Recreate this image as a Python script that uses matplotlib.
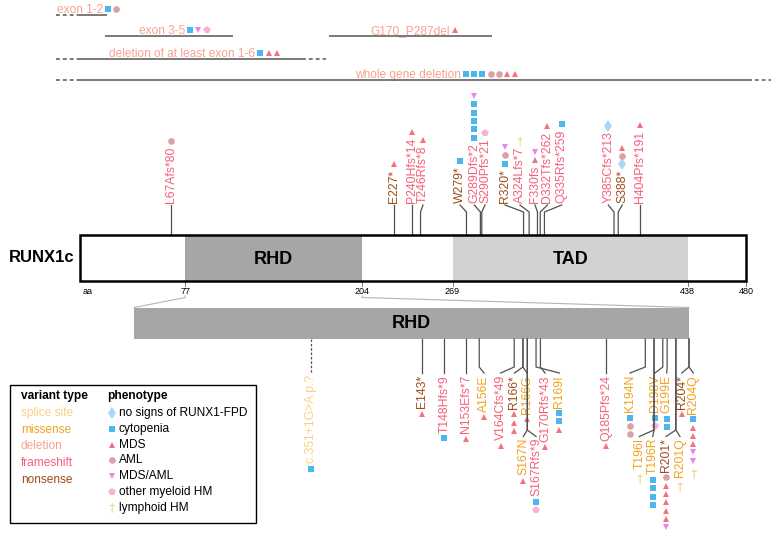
import matplotlib
matplotlib.use('Agg')
import matplotlib.pyplot as plt
from matplotlib.patches import Rectangle

plt.rcParams['font.family'] = ['Liberation Sans', 'DejaVu Sans']

# ---------------- data ----------------
protein_len = 480
domain_names = ['RHD', 'TAD']
domain_start = [77, 269]
domain_end = [204, 438]
domain_color = ['#A6A6A6', '#D4D1D1']
tick_aa = [77, 204, 269, 438, 480]

# large deletions (extent in aa as drawn)
del_names = ['exon 1-2', 'exon 3-5', 'deletion of at least exon 1-6', 'G170_P287del', 'whole gene deletion']
del_start = [1, 19, 1, 180, 1]
del_end = [21, 111, 161, 297, 481]
del_open_left = [True, False, True, False, True]
del_open_right = [False, False, True, False, True]
del_pheno = [['cyto', 'aml'], ['cyto', 'mdsaml', 'myeloid'], ['cyto', 'mds', 'mds'], ['mds'],
             ['cyto', 'cyto', 'cyto', 'aml', 'aml', 'mds', 'mds']]

# variants outside the RHD (upper track)
top_names = ['L67Afs*80', 'E227*', 'P240Hfs*14', 'T246Rfs*8', 'W279*', 'G289Dfs*2', 'S290Pfs*21', 'R320*',
             'A324Lfs*7', 'F330fs', 'D332Tfs*262', 'Q335Rfs*259', 'Y385Cfs*213', 'S388*', 'H404Pfs*191']
top_aa = [67, 227, 240, 246, 279, 289, 290, 320, 324, 330, 332, 335, 385, 388, 404]
top_type = ['fs', 'ns', 'fs', 'fs', 'ns', 'fs', 'fs', 'ns', 'fs', 'fs', 'fs', 'fs', 'fs', 'ns', 'fs']
top_pheno = [['aml'], ['mds'], ['mds'], ['mds'], ['cyto'], ['cyto'] * 5 + ['mdsaml'], ['myeloid'],
             ['cyto', 'aml', 'mdsaml'], ['lymph'], ['mds', 'mdsaml'], ['mds'], ['cyto'], ['none'],
             ['none', 'aml', 'mds'], ['mds']]

# variants in the RHD (zoomed track)
low_names = ['c.351+1G>A p.?', 'E143*', 'T148Hfs*9', 'N153Efs*7', 'A156E', 'V164Cfs*49', 'R166*', 'R166G',
             'S167N', 'S167Rfs*9', 'R169I', 'G170Rfs*43', 'Q185Pfs*24', 'K194N', 'T196I', 'T196R',
             'D198V', 'G199E', 'R201*', 'R201Q', 'R204*', 'R204Q']
low_aa = [117.5, 143, 148, 153, 156, 164, 166, 166, 167, 167, 169, 170, 185, 194, 196, 196,
          198, 199, 201, 201, 204, 204]
low_type = ['sp', 'ns', 'fs', 'fs', 'ms', 'fs', 'ns', 'ms', 'ms', 'fs', 'ms', 'fs', 'fs', 'ms', 'ms', 'ms',
            'ms', 'ms', 'ns', 'ms', 'ns', 'ms']
low_pheno = [['cyto'], ['mds'], ['cyto'], ['mds'], ['mds'], ['mds'], ['mds', 'mds', 'mds'], ['mds'],
             ['mds'], ['cyto', 'myeloid'], ['cyto', 'cyto', 'mds'], ['mds'], ['mds'], ['cyto', 'aml', 'aml'],
             ['lymph'], ['cyto'] * 4, ['cyto', 'myeloid'], ['cyto', 'cyto'],
             ['aml', 'mds', 'mds', 'mds', 'mds', 'mds', 'mdsaml'], ['lymph'], ['mds'],
             ['cyto', 'mds', 'mds', 'mds', 'mdsaml', 'mdsaml', 'lymph']]

vt_keys = ['sp', 'ms', 'del', 'fs', 'ns']
vt_labels = ['splice site', 'missense', 'deletion', 'frameshift', 'nonsense']
ph_keys = ['none', 'cyto', 'mds', 'aml', 'mdsaml', 'myeloid', 'lymph']
ph_labels = ['no signs of RUNX1-FPD', 'cytopenia', 'MDS', 'AML', 'MDS/AML', 'other myeloid HM', 'lymphoid HM']

# ---------------- layout / style ----------------
top_label_x = [None, None, None, 423, 460, 474.3, 485, 505, 520, 535, 547.5, 561.7, 608.3, 622.3, None]
low_label_x = [None, None, None, None, 484, 500.7, 514.5, 527, 523.3, 536, 559.3, 545, None, 630,
               639.3, 652.7, 655, 666.7, 666, 680, 681.7, 693.3]
low_row = [1, 1, 1, 1, 1, 1, 1, 1, 2, 2, 1, 1, 1, 1, 2, 2, 1, 1, 2, 2, 1, 1]
del_y = [15, 36, 58.7, 36, 80]
del_text_x = [80, 162, 182.5, 410, 408]

VT_COLOR = {'sp': '#FBCF88', 'ms': '#F3A21E', 'del': '#F8A190', 'fs': '#F4607A', 'ns': '#9E4C1A'}
STY = {'none': ('d', '#A9D8F1', 6.2), 'cyto': ('s', '#4DB6EE', 4.6), 'mds': ('^', '#F7707E', 5.0),
       'aml': ('o', '#D9A2A5', 4.8), 'mdsaml': ('v', '#E488E7', 5.0), 'myeloid': ('p', '#F6B3DA', 5.4),
       'lymph': ('dagger', '#F7D688', 9)}
STEM = '#505050'
LAB_FS = 8.8
W, H = 779, 537

fig = plt.figure(figsize=(W / 100, H / 100), dpi=100)
ax_px = fig.add_axes([0, 0, 1, 1])
ax_px.set_xlim(0, W)
ax_px.set_ylim(H, 0)
ax_px.axis('off')


def track_axes(aa_a, px_a, aa_b, px_b):
    ax = fig.add_axes([0, 0, 1, 1])
    s = (px_b - px_a) / (aa_b - aa_a)
    ax.set_xlim(aa_a - px_a / s, aa_a + (W - px_a) / s)
    ax.set_ylim(H, 0)
    ax.axis('off')
    ax.patch.set_alpha(0)
    return ax


ax_top = track_axes(1, 79.5, 480, 79.5 + 479 * 1.392)
ax_low = track_axes(77, 134, 204, 689)


def to_px(ax, aa):
    return ax_px.transData.inverted().transform(ax.transData.transform((aa, 0)))[0]


def to_aa(ax, px):
    return ax.transData.inverted().transform(ax_px.transData.transform((px, 0)))[0]


def put_marker(x, y, p):
    m, c, s = STY[p]
    if m == 'dagger':
        ax_px.text(x, y, '\u2020', ha='center', va='center', color=c, fontsize=s, family='DejaVu Sans')
    else:
        ax_px.plot(x, y, marker=m, color=c, ms=s, mew=0, ls='none')


pending = []

# ---------------- protein ----------------
TOP_Y0, TOP_Y1 = 235, 281
ax_top.add_patch(Rectangle((1, TOP_Y0), protein_len - 1, TOP_Y1 - TOP_Y0, fc='white', ec='none', zorder=1))
for name, a, b, c in zip(domain_names, domain_start, domain_end, domain_color):
    ax_top.add_patch(Rectangle((a, TOP_Y0), b - a, TOP_Y1 - TOP_Y0, fc=c, ec='none', zorder=2))
    ax_top.text((a + b) / 2, (TOP_Y0 + TOP_Y1) / 2 + 1, name, ha='center', va='center',
                fontsize=13, fontweight='bold', zorder=4)
ax_top.add_patch(Rectangle((1, TOP_Y0), protein_len - 1, TOP_Y1 - TOP_Y0, fill=False, ec='black', lw=1.8, zorder=3))
ax_px.text(75, (TOP_Y0 + TOP_Y1) / 2, 'RUNX1c', ha='right', va='center', fontsize=12, fontweight='bold')

# ticks
ax_px.text(88, 291, 'aa', ha='center', va='center', fontsize=6.5)
for t in tick_aa:
    ax_top.plot([t, t], [TOP_Y1, 286], color='#808080', lw=0.7)
    ax_top.text(t, 291, str(t), ha='center', va='center', fontsize=6.5)

# zoomed RHD
LOW_Y0, LOW_Y1 = 307.5, 339
ax_low.add_patch(Rectangle((domain_start[0], LOW_Y0), domain_end[0] - domain_start[0], LOW_Y1 - LOW_Y0,
                           fc=domain_color[0], ec='none'))
ax_low.text((domain_start[0] + domain_end[0]) / 2, (LOW_Y0 + LOW_Y1) / 2, domain_names[0], ha='center',
            va='center', fontsize=13, fontweight='bold')
for aa_edge in (domain_start[0], domain_end[0]):
    xt = to_px(ax_top, aa_edge)
    xl = to_px(ax_low, aa_edge)
    ax_px.plot([xt, xt, xl], [296, 297.5, LOW_Y0], color='#B5B5B5', lw=0.8)

# ---------------- deletions ----------------
for i, name in enumerate(del_names):
    y = del_y[i]
    ax_top.plot([del_start[i], del_end[i]], [y, y], color='#555555', lw=1.1, solid_capstyle='butt')
    if del_open_left[i]:
        ax_top.plot([del_start[i] - 17, del_start[i]], [y, y], color='#555555', lw=1.1, ls=(0, (2.5, 2)))
    if del_open_right[i]:
        ax_top.plot([del_end[i], del_end[i] + 17], [y, y], color='#555555', lw=1.1, ls=(0, (2.5, 2)))
    t = ax_px.text(del_text_x[i], y - 2, name, ha='center', va='baseline', color=VT_COLOR['del'], fontsize=8.6)
    pending.append((t, del_pheno[i], 'right', y - 6))

# ---------------- upper lollipops ----------------
for i, name in enumerate(top_names):
    sx = to_px(ax_top, top_aa[i])
    lx = sx if top_label_x[i] is None else top_label_x[i]
    ax_top.plot([top_aa[i], top_aa[i], to_aa(ax_top, lx)], [TOP_Y0, 212, 205], color=STEM, lw=0.9)
    t = ax_px.text(lx, 203, name, rotation=90, ha='center', va='bottom', color=VT_COLOR[top_type[i]],
                   fontsize=LAB_FS)
    pending.append((t, top_pheno[i], 'up', lx))

# ---------------- lower lollipops ----------------
for i, name in enumerate(low_names):
    sx = to_px(ax_low, low_aa[i])
    lx = sx if low_label_x[i] is None else low_label_x[i]
    if low_row[i] == 1:
        ys, ytxt = [LOW_Y1, 367, 373], 375
    else:
        ys, ytxt = [LOW_Y1, 430, 436.5], 438
    ax_low.plot([low_aa[i], low_aa[i], to_aa(ax_low, lx)], ys, color=STEM, lw=0.9,
                ls=(0, (2, 1.5)) if low_type[i] == 'sp' else '-')
    t = ax_px.text(lx, ytxt, name, rotation=90, ha='center', va='top', color=VT_COLOR[low_type[i]],
                   fontsize=LAB_FS)
    pending.append((t, low_pheno[i], 'down', lx))

# ---------------- legend ----------------
ax_px.add_patch(Rectangle((10, 385), 246, 138, fill=False, ec='black', lw=1))
ax_px.text(21, 396, 'variant type', ha='left', va='center', fontsize=8.6, fontweight='bold')
ax_px.text(107, 396, 'phenotype', ha='left', va='center', fontsize=8.6, fontweight='bold')
for i, (k, lab) in enumerate(zip(vt_keys, vt_labels)):
    ax_px.text(21, 413 + i * 16.7, lab, ha='left', va='center', fontsize=8.6, color=VT_COLOR[k])
for i, (k, lab) in enumerate(zip(ph_keys, ph_labels)):
    y = 413 + i * 15.8
    put_marker(112, y, k)
    ax_px.text(119, y, lab, ha='left', va='center', fontsize=8.6)

# ---------------- markers next to labels ----------------
fig.canvas.draw()
r = fig.canvas.get_renderer()
inv = ax_px.transData.inverted()
GAP, STEP = 5.5, 8.3
for t, phen, mode, pos in pending:
    bb = t.get_window_extent(r)
    (x0, ya), (x1, yb) = inv.transform([[bb.x0, bb.y0], [bb.x1, bb.y1]])
    if mode == 'right':
        for j, p in enumerate(phen):
            put_marker(x1 + 5 + j * 8.2, pos, p)
    elif mode == 'up':
        y = min(ya, yb) - GAP
        for p in phen:
            put_marker(pos, y, p)
            y -= STEP
    else:
        y = max(ya, yb) + GAP
        for p in phen:
            put_marker(pos, y + (4 if p == 'lymph' else 0), p)
            y += STEP

fig.savefig('out.png', dpi=100)
